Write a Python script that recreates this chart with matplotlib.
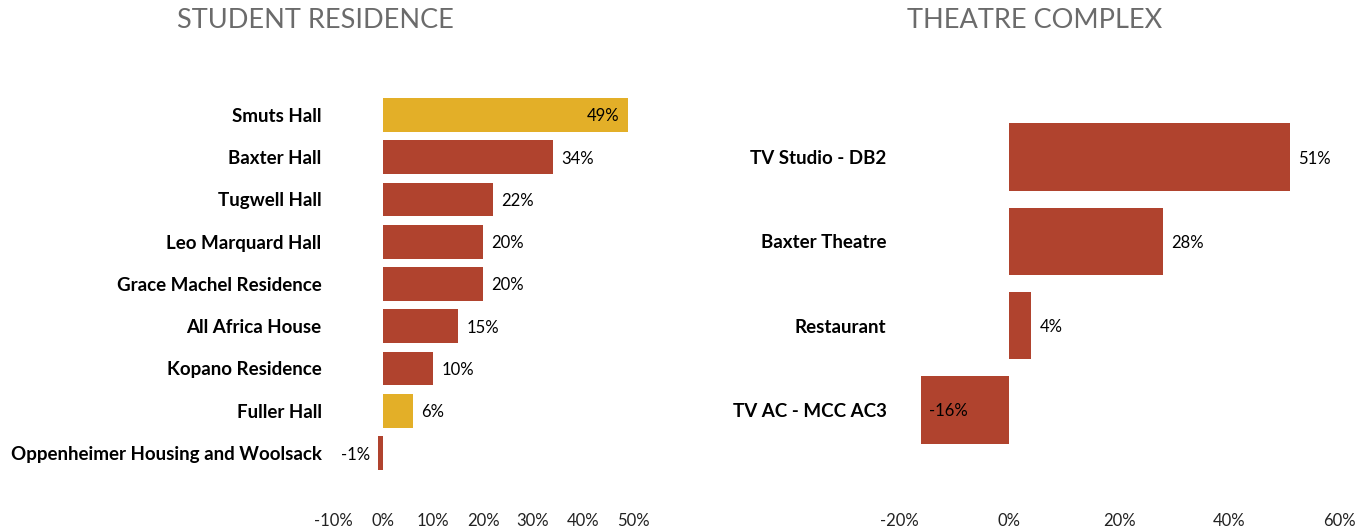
import matplotlib
matplotlib.use("Agg")
import matplotlib.pyplot as plt
from matplotlib.ticker import FuncFormatter

plt.rcParams['font.family'] = ['Lato', 'DejaVu Sans']

# data
res_names = ["Smuts Hall", "Baxter Hall", "Tugwell Hall", "Leo Marquard Hall",
             "Grace Machel Residence", "All Africa House", "Kopano Residence",
             "Fuller Hall", "Oppenheimer Housing and Woolsack"]
res_values = [49, 34, 22, 20, 20, 15, 10, 6, -1]
res_highlight = [True, False, False, False, False, False, False, True, False]

thr_names = ["TV Studio - DB2", "Baxter Theatre", "Restaurant", "TV AC - MCC AC3"]
thr_values = [51, 28, 4, -16]

RED = "#B0432E"
GOLD = "#E3AF28"
W, H = 1370, 531

fig = plt.figure(figsize=(W / 100, H / 100), dpi=100)

def px_axes(x0, x1, y0, y1):
    return fig.add_axes([x0 / W, 1 - y1 / H, (x1 - x0) / W, (y1 - y0) / H])

T, B = 80, 495
ax1 = px_axes(323, 658, T, B)
ax2 = px_axes(888, 1350, T, B)

pct = FuncFormatter(lambda v, p: f"{v:.0f}%")

def draw(ax, names, values, colors, xlim, ticks, ylim, title, xc_title, inside):
    y = list(range(len(names)))
    bars = ax.barh(y, values, height=0.8, color=colors)
    ax.set_xlim(*xlim)
    ax.set_ylim(*ylim)
    ax.set_xticks(ticks)
    ax.xaxis.set_major_formatter(pct)
    ax.set_yticks(y)
    ax.set_yticklabels(names, fontsize=13.5, fontweight='bold', color='black')
    ax.tick_params(axis='both', length=0)
    ax.tick_params(axis='y', pad=1)
    ax.tick_params(axis='x', labelsize=12, colors='#222222', pad=13)
    for s in ax.spines.values():
        s.set_visible(False)
    for b, v in zip(bars, values):
        yc = b.get_y() + b.get_height() / 2
        right = (v >= 0) != inside(v)
        ax.annotate(f"{v}%", (v, yc), xytext=(6 if right else -6, 0),
                    textcoords='offset points', ha='left' if right else 'right',
                    va='center_baseline', fontsize=12, color='black')
    fig.text(xc_title / W, 1 - 20 / H, title, ha='center', va='center', fontsize=19.5, color='#6b6b6b')

res_colors = [GOLD if h else RED for h in res_highlight]
draw(ax1, res_names, res_values, res_colors, (-12, 55), [-10, 0, 10, 20, 30, 40, 50],
     ((B - 115) / 42.25, (T - 115) / 42.25), "STUDENT RESIDENCE", 315,
     lambda v: v == max(res_values))
draw(ax2, thr_names, thr_values, [RED] * len(thr_values), (-22, 62), [-20, 0, 20, 40, 60],
     ((B - 157) / 84.3, (T - 157) / 84.3), "THEATRE COMPLEX", 1035,
     lambda v: v < -10)

fig.savefig("out.png", dpi=100)
